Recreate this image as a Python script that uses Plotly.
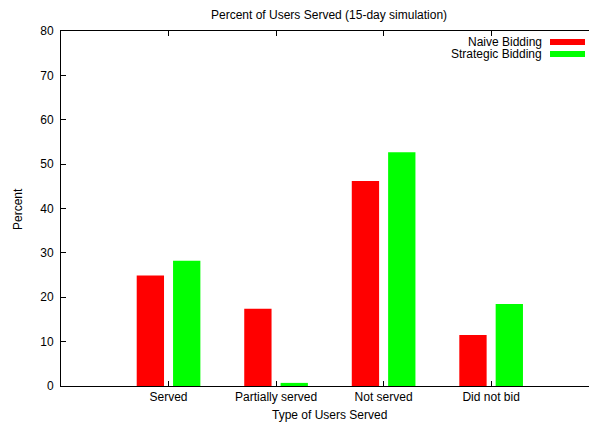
import plotly.graph_objects as go

categories = ["Served", "Partially served", "Not served", "Did not bid"]
naive = [24.9, 17.4, 46.2, 11.5]
strategic = [28.2, 0.7, 52.7, 18.5]
series_names = ["Naive Bidding", "Strategic Bidding"]
colors = ["#ff0000", "#00ff00"]

W, H = 589, 425
L, R, T, B = 61, 0, 31, 39
FONT = "Liberation Sans, Arial, Helvetica, sans-serif"

fig = go.Figure()
bw = 0.254
fig.add_trace(go.Bar(x=categories, y=naive, name=series_names[0],
                     marker=dict(color=colors[0], line=dict(width=0)),
                     width=bw, offset=-0.169 - bw / 2, showlegend=False))
fig.add_trace(go.Bar(x=categories, y=strategic, name=series_names[1],
                     marker=dict(color=colors[1], line=dict(width=0)),
                     width=bw, offset=0.169 - bw / 2, showlegend=False))

pw = W - L - R
def px_to_paper_x(px):
    return (px - L) / pw

ph = H - T - B
def px_to_paper_y(py):
    return (H - B - py) / ph

annotations = [
    dict(text="Percent of Users Served (15-day simulation)", x=px_to_paper_x(329), y=px_to_paper_y(15),
         xref="paper", yref="paper", showarrow=False, font=dict(size=12, family=FONT, color="black"),
         xanchor="center", yanchor="middle"),
    dict(text="Type of Users Served", x=px_to_paper_x(329), y=px_to_paper_y(415),
         xref="paper", yref="paper", showarrow=False, font=dict(size=12, family=FONT, color="black"),
         xanchor="center", yanchor="middle"),
    dict(text="Percent", x=px_to_paper_x(18), y=px_to_paper_y(209),
         xref="paper", yref="paper", showarrow=False, textangle=-90,
         font=dict(size=12, family=FONT, color="black"), xanchor="center", yanchor="middle"),
]
shapes = []
legend_y = [42, 54]
for name, col, ly in zip(series_names, colors, legend_y):
    annotations.append(dict(text=name, x=px_to_paper_x(543), y=px_to_paper_y(ly),
                            xref="paper", yref="paper", showarrow=False,
                            font=dict(size=12, family=FONT, color="black"),
                            xanchor="right", yanchor="middle", borderpad=0))
    shapes.append(dict(type="rect", xref="paper", yref="paper",
                       x0=px_to_paper_x(550), x1=px_to_paper_x(585),
                       y0=px_to_paper_y(ly - 3), y1=px_to_paper_y(ly + 3),
                       fillcolor=col, line=dict(width=0)))

fig.update_layout(
    width=W, height=H,
    margin=dict(l=L, r=R, t=T, b=B, pad=0),
    paper_bgcolor="white", plot_bgcolor="white",
    barmode="overlay",
    font=dict(family=FONT, size=12, color="black"),
    annotations=annotations, shapes=shapes,
    xaxis=dict(type="category", range=[-1, 3.91], showgrid=False, zeroline=False,
               showline=True, linecolor="black", linewidth=1, mirror="ticks",
               ticks="inside", ticklen=5, tickcolor="black", tickwidth=1,
               tickfont=dict(size=12, family=FONT, color="black")),
    yaxis=dict(range=[0, 80], dtick=10, showgrid=False, zeroline=False,
               showline=True, linecolor="black", linewidth=1, mirror=False,
               ticks="inside", ticklen=5, tickcolor="black", tickwidth=1,
               ticklabelstandoff=4,
               tickfont=dict(size=12, family=FONT, color="black")),
)

fig.write_html("out.html", config={"displayModeBar": False})

# remove the default page margin so the figure sits at the window's top-left corner
with open("out.html", "r", encoding="utf-8") as f:
    html = f.read()
html = html.replace("<head>", "<head><style>html,body{margin:0;padding:0;overflow:hidden;}</style>", 1)
with open("out.html", "w", encoding="utf-8") as f:
    f.write(html)
